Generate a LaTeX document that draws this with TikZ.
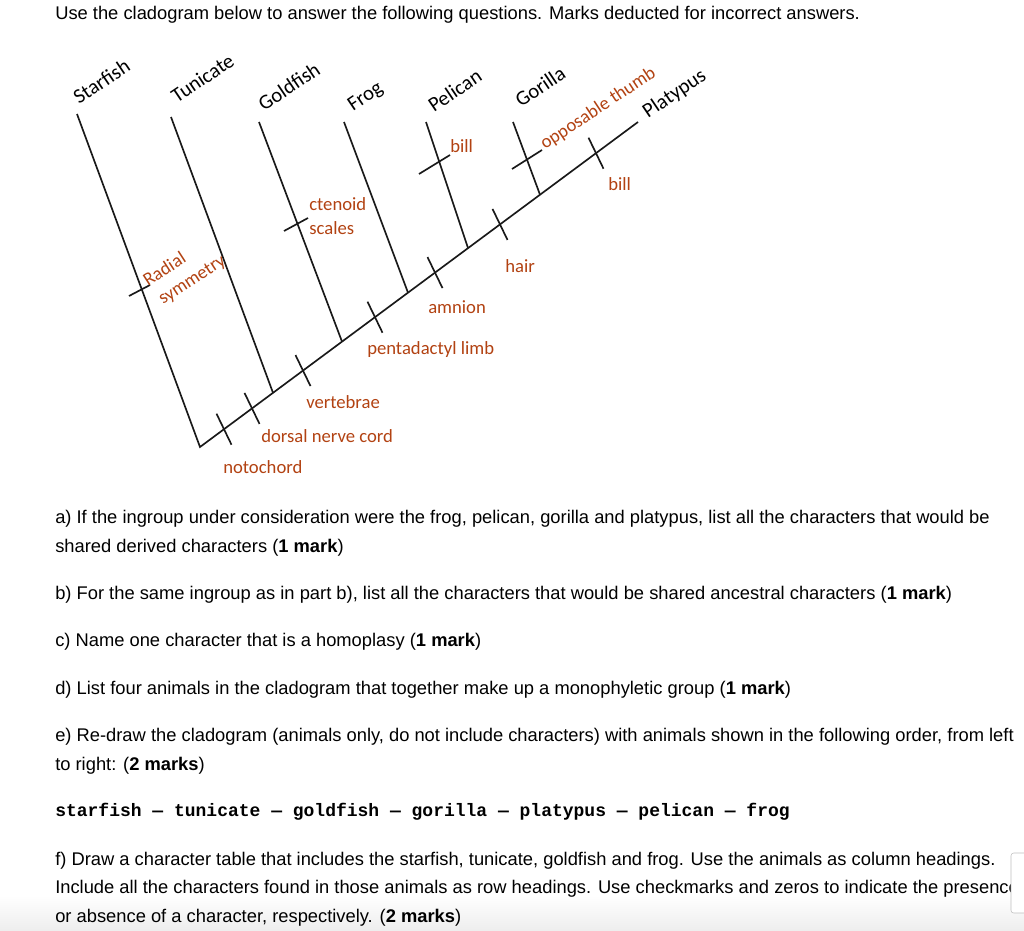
\documentclass[tikz,border=0pt]{standalone}
\usepackage{fontspec}
\setmainfont{Liberation Sans}
\setmonofont{Liberation Mono}
\newfontfamily\cladofont{Carlito}
\definecolor{charred}{RGB}{178,66,18}

\begin{document}
\begin{tikzpicture}[x=0.75pt,y=-0.75pt,
    branch/.style={line width=1.25pt,black!90},
    taxon/.style={anchor=base west,rotate=34,inner sep=0pt,font=\cladofont\fontsize{15.5}{15}\selectfont},
    trait/.style={anchor=base west,inner sep=0pt,text=charred,font=\cladofont\fontsize{14}{16}\selectfont},
    qline/.style={anchor=base west,inner sep=0pt,font=\fontsize{13.75}{16}\selectfont}]
    \useasboundingbox (0,0) rectangle (1024,931);
    \shade[top color=white,bottom color=black!7] (0,895) rectangle (1024,931);
    \node[qline] (intro) at (55,20) {Use the cladogram below to answer the following questions. Marks deducted for incorrect answers.};
    % backbone and branches
    \coordinate (root) at (200,447);
    \coordinate (jTun) at (273,392.8);
    \coordinate (jGold) at (342,341.6);
    \coordinate (jFrog) at (408,292.7);
    \coordinate (jPel) at (468,248.1);
    \coordinate (jGor) at (540,194.7);
    \coordinate (tPlat) at (638,122);
    \coordinate (tStar) at (77,114);
    \coordinate (tTun) at (171,117);
    \coordinate (tGold) at (259,122);
    \coordinate (tFrog) at (344,122);
    \coordinate (tPel) at (426,122);
    \coordinate (tGor) at (513,122);
    \draw[branch] (tStar)--(root)--(tPlat);
    \draw[branch] (jTun)--(tTun);
    \draw[branch] (jGold)--(tGold);
    \draw[branch] (jFrog)--(tFrog);
    \draw[branch] (jPel)--(tPel);
    \draw[branch] (jGor)--(tGor);
    % taxa
    \node[taxon] (starfish) at (79,105) {Starfish};
    \node[taxon] (tunicate) at (177,104) {Tunicate};
    \node[taxon] (goldfish) at (264,112) {Goldfish};
    \node[taxon] (frog) at (353,112) {Frog};
    \node[taxon] (pelican) at (434,113) {Pelican};
    \node[taxon] (gorilla) at (521,108) {Gorilla};
    \node[taxon] (platypus) at (648,119) {Platypus};
    % ticks on the backbone
    \foreach \tx/\ty in {224/429.2,252/408.4,303/370.6,375/317.2,435/272.6,500/224.4,596/153.2}
        \draw[branch] (\tx,\ty) ++(-7.5,-15.5) -- ++(15,31);
    % ticks on the branches
    \draw[branch] (142,289) ++(-13,7) -- ++(21,-11);
    \draw[branch] (297,224) ++(-13,7) -- ++(24,-13);
    \draw[branch] (440,163) ++(-21,11) -- ++(31,-19);
    \draw[branch] (528,158) ++(-16,11) -- ++(30,-19);
    % characters
    \node[trait,rotate=33] (radial) at (148,287) {Radial};
    \node[trait,rotate=33] (symm) at (163,305) {symmetry};
    \node[trait] (cten) at (309,210) {ctenoid};
    \node[trait] (scales) at (309,234) {scales};
    \node[trait] (billP) at (450,152) {bill};
    \node[trait,rotate=33.5] (thumb) at (545,150) {opposable thumb};
    \node[trait] (billY) at (608,190) {bill};
    \node[trait] (hair) at (505,272) {hair};
    \node[trait] (amnion) at (428,313) {amnion};
    \node[trait] (penta) at (367,354) {pentadactyl limb};
    \node[trait] (vert) at (306,408) {vertebrae};
    \node[trait] (dorsal) at (261,442) {dorsal nerve cord};
    \node[trait] (noto) at (223,473) {notochord};
    % questions
    \node[qline] (qa1) at (55,523) {a) If the ingroup under consideration were the frog, pelican, gorilla and platypus, list all the characters that would be};
    \node[qline] (qa2) at (55,552) {shared derived characters (\textbf{1 mark})};
    \node[qline] (qb) at (55,599) {b) For the same ingroup as in part b), list all the characters that would be shared ancestral characters (\textbf{1 mark})};
    \node[qline] (qc) at (55,646) {c) Name one character that is a homoplasy (\textbf{1 mark})};
    \node[qline] (qd) at (55,694) {d) List four animals in the cladogram that together make up a monophyletic group (\textbf{1 mark})};
    \node[qline] (qe1) at (55,741) {e) Re-draw the cladogram (animals only, do not include characters) with animals shown in the following order, from left};
    \node[qline] (qe2) at (55,770) {to right: (\textbf{2 marks})};
    \node[qline,font=\ttfamily\bfseries\fontsize{13.5}{16}\selectfont] (order) at (55,816) {starfish — tunicate — goldfish — gorilla — platypus — pelican — frog};
    \node[qline] (qf1) at (55,865) {f) Draw a character table that includes the starfish, tunicate, goldfish and frog. Use the animals as column headings.};
    \node[qline] (qf2) at (55,893) {Include all the characters found in those animals as row headings. Use checkmarks and zeros to indicate the presence};
    \node[qline] (qf3) at (55,922) {or absence of a character, respectively. (\textbf{2 marks})};
    % answer box at the edge
    \draw[black!25,fill=white,rounded corners=2pt] (1011,853) rectangle (1040,913);
\end{tikzpicture}
\end{document}
